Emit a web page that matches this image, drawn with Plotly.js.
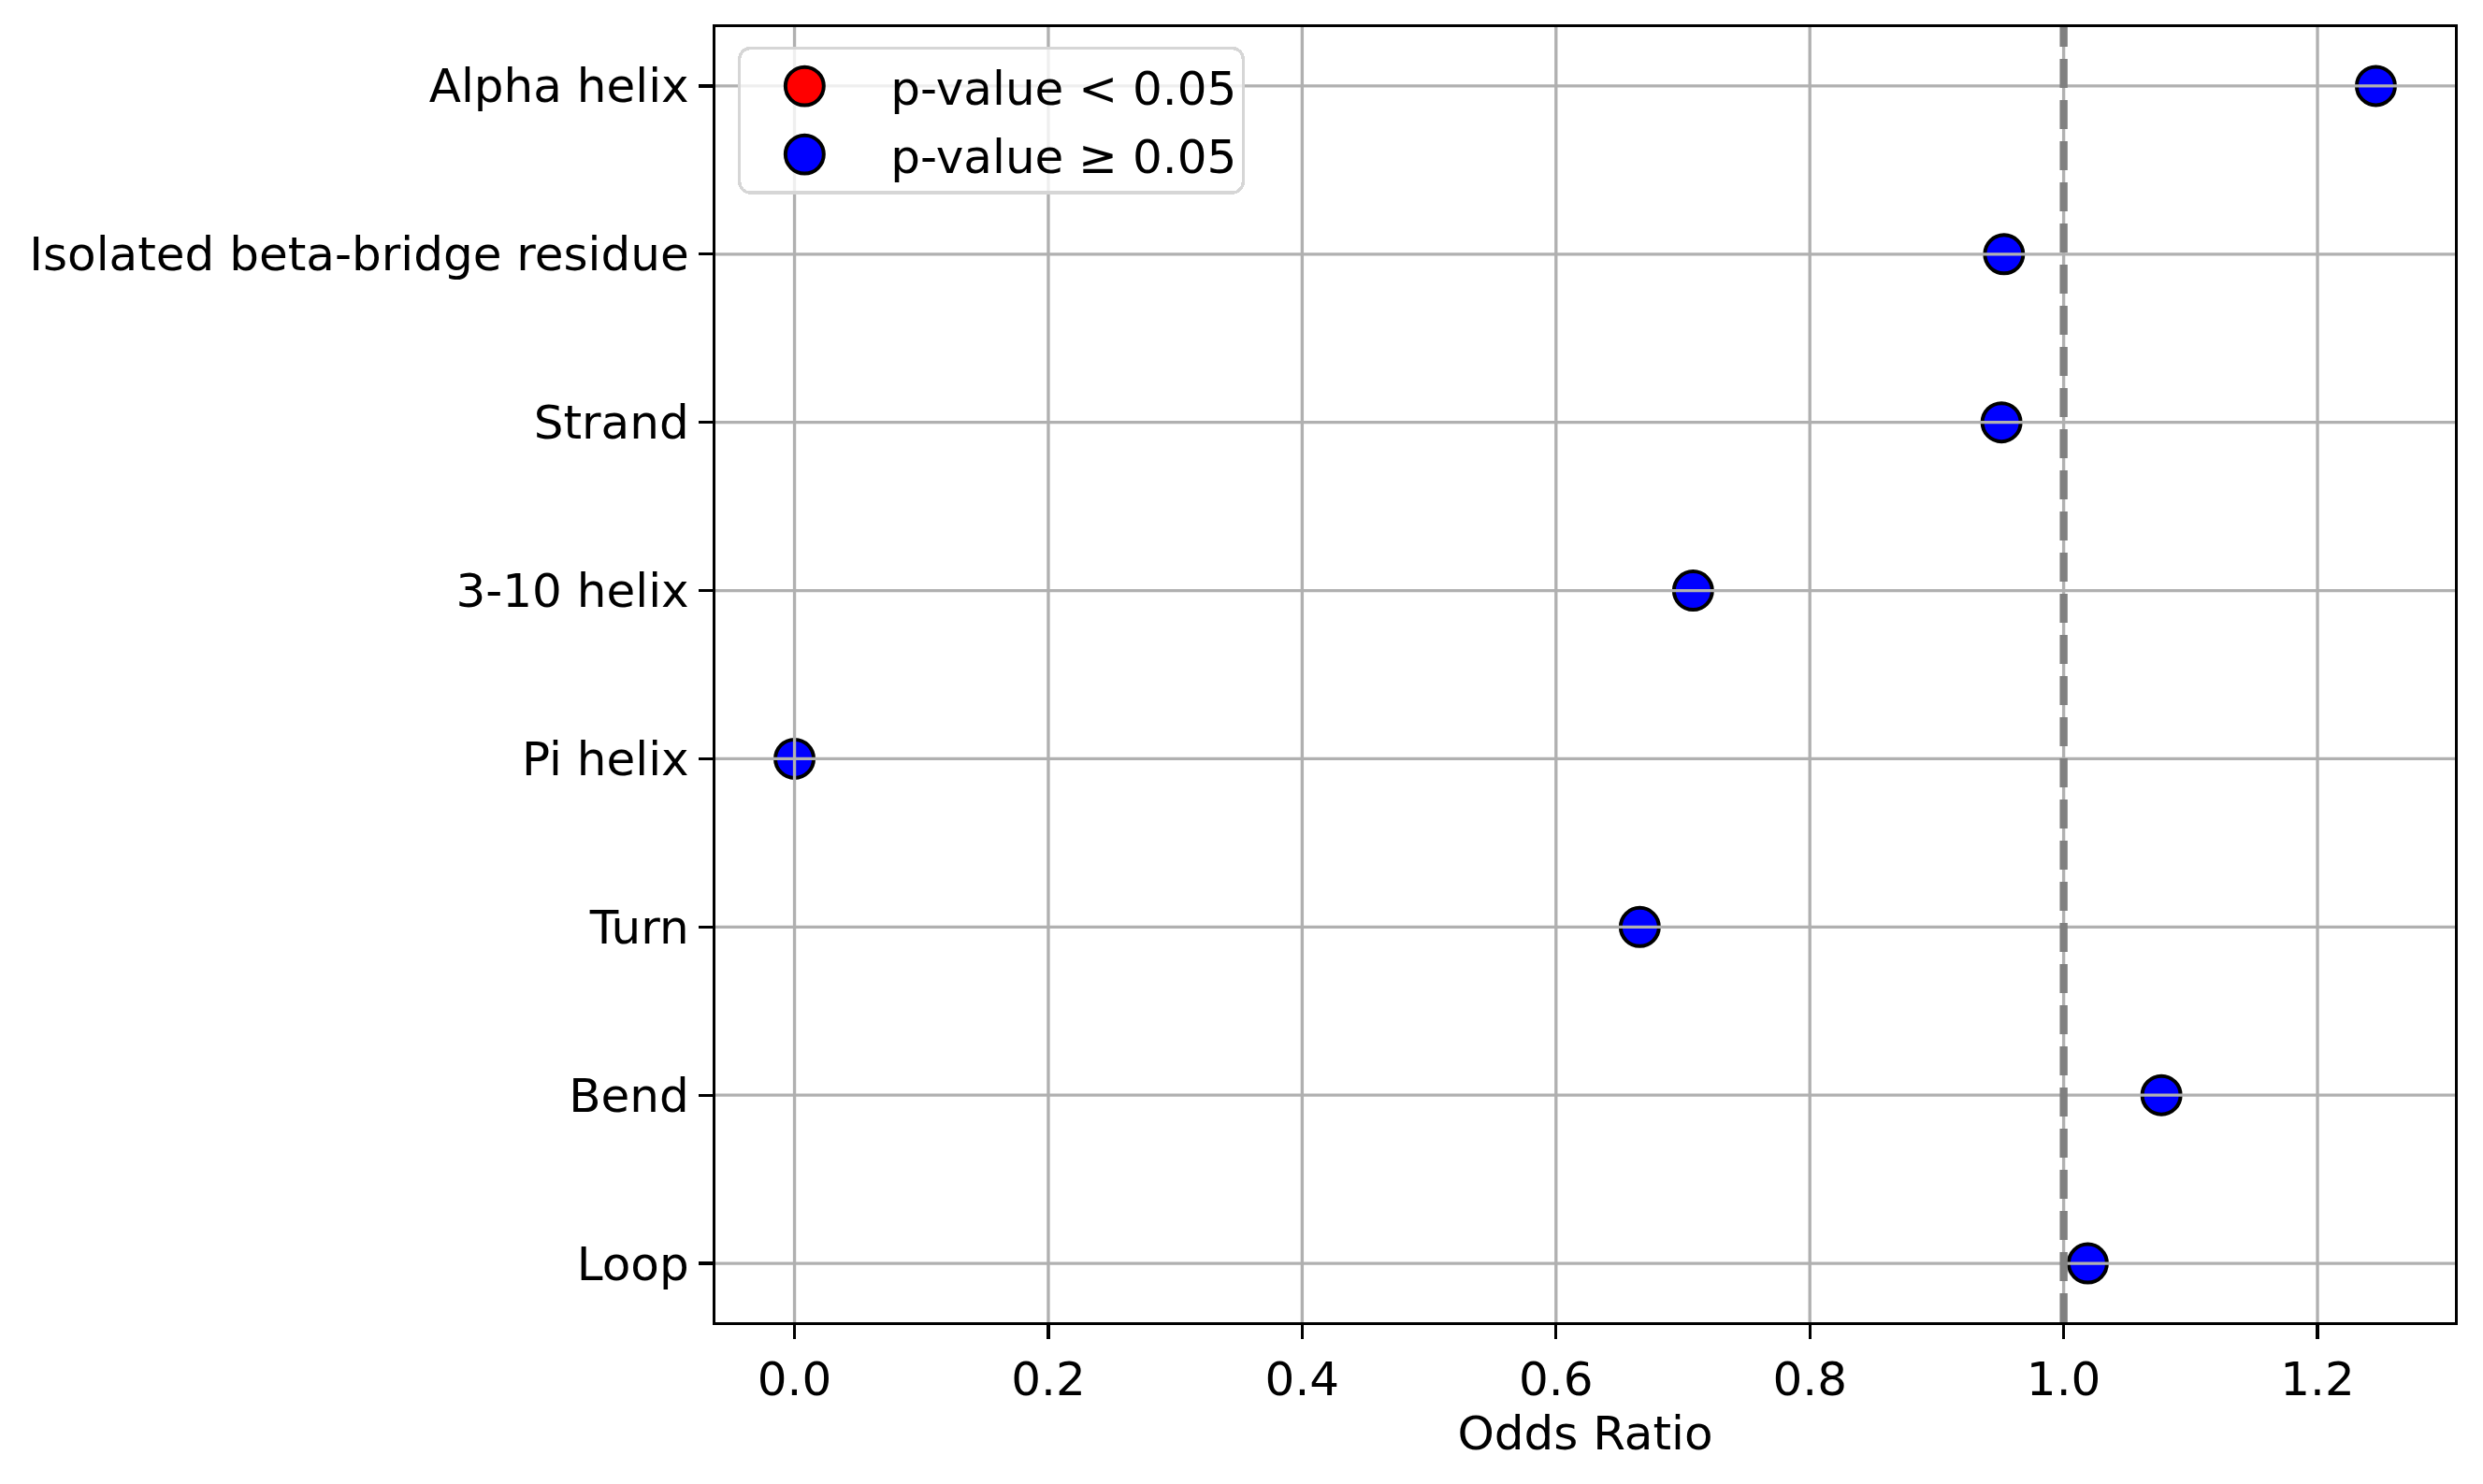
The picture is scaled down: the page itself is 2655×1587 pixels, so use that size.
<!DOCTYPE html>
<html>
<head>
<meta charset="utf-8">
<script src="https://cdn.plot.ly/plotly-3.0.1.min.js"></script>
<style>
  body { margin: 0; background: #fff; }
  #chart { width: 2655px; height: 1587px; }
</style>
</head>
<body>
<div id="chart"></div>
<script>
// secondary structure categories, top to bottom
var structures = ['Alpha helix', 'Isolated beta-bridge residue', 'Strand', '3-10 helix',
                  'Pi helix', 'Turn', 'Bend', 'Loop'];
var oddsRatios = [1.246, 0.953, 0.951, 0.708, 0.0, 0.666, 1.077, 1.019];
// all above 0.05 in the source figure
var pValues = [0.21, 0.88, 0.83, 0.47, 1.0, 0.39, 0.62, 0.90];
var xTicks = [0.0, 0.2, 0.4, 0.6, 0.8, 1.0, 1.2];
var refLine = 1.0;

var GRID = '#b0b0b0';
var PT = 300 / 72; // matplotlib points -> px at 300 dpi

function pick(test) {
  var xs = [], ys = [];
  for (var i = 0; i < structures.length; i++) {
    if (test(pValues[i])) { xs.push(oddsRatios[i]); ys.push(structures[i]); }
  }
  return {x: xs, y: ys};
}
var sig = pick(function(p) { return p < 0.05; });
var nonSig = pick(function(p) { return p >= 0.05; });

function markerOf(color) {
  return {color: color, size: 41, line: {color: 'black', width: 4}};
}

var traces = [
  {x: sig.x.length ? sig.x : [null], y: sig.y.length ? sig.y : [null], type: 'scatter', mode: 'markers',
   name: 'p-value < 0.05', legendgroup: 'sig', marker: markerOf('red'), hoverinfo: 'x+y'},
  {x: nonSig.x, y: nonSig.y, type: 'scatter', mode: 'markers',
   name: 'p-value \u2265 0.05', legendgroup: 'ns', marker: markerOf('blue'), hoverinfo: 'x+y'}
];

// matplotlib style 5% padding
var lo = Math.min.apply(null, oddsRatios), hi = Math.max.apply(null, oddsRatios);
var pad = 0.05 * (hi - lo);
var n = structures.length;

// grid drawn above the markers, like the original
var shapes = [];
xTicks.forEach(function(t) {
  shapes.push({type: 'line', layer: 'above', xref: 'x', yref: 'y domain', x0: t, x1: t, y0: 0, y1: 1,
               line: {color: GRID, width: 0.8 * PT}});
});
structures.forEach(function(s) {
  shapes.push({type: 'line', layer: 'above', xref: 'x domain', yref: 'y', x0: 0, x1: 1, y0: s, y1: s,
               line: {color: GRID, width: 0.8 * PT}});
});
shapes.push({type: 'line', layer: 'above', xref: 'x', yref: 'y domain', x0: refLine, x1: refLine, y0: 0, y1: 1,
             line: {color: 'gray', width: 2 * PT, dash: '31px,13px'}});

var layout = {
  width: 2655,
  height: 1587,
  margin: {l: 765, r: 30, t: 29, b: 173},
  paper_bgcolor: 'white',
  plot_bgcolor: 'white',
  font: {family: 'DejaVu Sans', size: 50, color: 'black'},
  showlegend: true,
  legend: {
    x: 0.0129, y: 0.985, xanchor: 'left', yanchor: 'top',
    bgcolor: 'rgba(255,255,255,0.8)', bordercolor: '#d6d6d6', borderwidth: 0.8 * PT,
    traceorder: 'grouped', tracegroupgap: 5, itemwidth: 150,
    font: {size: 50}
  },
  xaxis: {
    range: [lo - pad, hi + pad],
    tickvals: xTicks,
    ticktext: xTicks.map(function(t) { return t.toFixed(1); }),
    showgrid: false, zeroline: false,
    showline: true, mirror: true, linecolor: 'black', linewidth: 0.8 * PT,
    ticks: 'outside', ticklen: 15, tickwidth: 0.8 * PT, tickcolor: 'black',
    title: {text: 'Odds Ratio', font: {size: 50}, standoff: 10}
  },
  yaxis: {
    type: 'category',
    categoryorder: 'array',
    categoryarray: structures,
    range: [n - 1 + 0.35, -0.35],
    showgrid: false, zeroline: false,
    showline: true, mirror: true, linecolor: 'black', linewidth: 0.8 * PT,
    ticks: 'outside', ticklen: 15, tickwidth: 0.8 * PT, tickcolor: 'black',
    ticklabelstandoff: 0
  },
  shapes: shapes
};

Plotly.newPlot('chart', traces, layout, {displayModeBar: false, staticPlot: true}).then(function(gd) {
  // rounded legend frame like matplotlib's fancybox
  gd.querySelectorAll('.legend rect.bg').forEach(function(r) {
    r.setAttribute('rx', 12);
    r.setAttribute('ry', 12);
  });
  // legend symbols are capped at 16px by plotly; grow them and put them ahead of the text
  gd.querySelectorAll('.legend .traces').forEach(function(g) {
    var p = g.querySelector('.legendpoints path');
    var txt = g.querySelector('text.legendtext');
    if (!p || !txt) return;
    var t = p.getAttribute('transform') || '';
    p.setAttribute('transform', t + ' scale(2.56)');
    p.setAttribute('vector-effect', 'non-scaling-stroke');
    p.style.strokeWidth = '4px';
    var pb = p.getBoundingClientRect();
    var tb = txt.getBoundingClientRect();
    var dx = (tb.left - 92) - (pb.left + pb.width / 2);
    p.setAttribute('transform', 'translate(' + dx + ',0) ' + p.getAttribute('transform'));
  });
});
</script>
</body>
</html>
